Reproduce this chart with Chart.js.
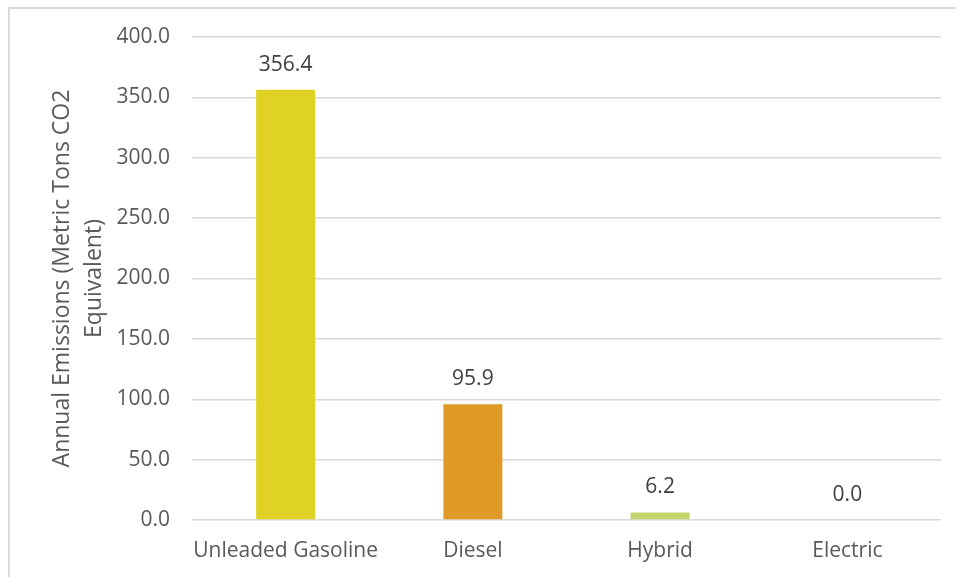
<!DOCTYPE html>
<html>
<head>
<meta charset="utf-8">
<script src="https://cdn.jsdelivr.net/npm/chart.js@4"></script>
<style>
    html, body { margin: 0; padding: 0; background: #ffffff; }
    #wrap { position: relative; width: 956px; height: 577px; overflow: hidden; }
    #frame {
        position: absolute; left: 8px; top: 7px; right: -10px; bottom: -10px;
        border-left: 2px solid #d9d9d9; border-top: 2px solid #d9d9d9;
        pointer-events: none;
    }
    canvas { position: absolute; left: 0; top: 0; }
</style>
</head>
<body>
<div id="wrap">
    <canvas id="emissionsChart" width="956" height="577"></canvas>
    <div id="frame"></div>
</div>
<script>
    // Chart data
    const fuelTypes = ['Unleaded Gasoline', 'Diesel', 'Hybrid', 'Electric'];
    const annualEmissions = [356.4, 95.9, 6.2, 0.0];
    const barColors = ['#e0d224', '#e09a28', '#c4d46c', '#a9c4e8'];
    const yTitleLines = ['Annual Emissions (Metric Tons CO2', 'Equivalent)'];

    const FONT = "'Open Sans', sans-serif";

    // Draws the value above each bar
    const valueLabels = {
        id: 'valueLabels',
        afterDatasetsDraw(chart) {
            const ctx = chart.ctx;
            const meta = chart.getDatasetMeta(0);
            ctx.save();
            ctx.font = '21px ' + FONT;
            ctx.fillStyle = '#404040';
            ctx.textAlign = 'center';
            ctx.textBaseline = 'middle';
            meta.data.forEach((bar, i) => {
                ctx.fillText(annualEmissions[i].toFixed(1), bar.x, bar.y - 25);
            });
            ctx.restore();
        }
    };

    new Chart(document.getElementById('emissionsChart'), {
        type: 'bar',
        data: {
            labels: fuelTypes,
            datasets: [{
                data: annualEmissions,
                backgroundColor: barColors,
                borderWidth: 0,
                barPercentage: 0.315,
                categoryPercentage: 1
            }]
        },
        options: {
            responsive: false,
            animation: false,
            devicePixelRatio: 1,
            layout: { padding: { left: 0, right: 15, top: 37, bottom: 0 } },
            plugins: {
                legend: { display: false },
                tooltip: { enabled: false }
            },
            scales: {
                x: {
                    grid: { display: false, drawTicks: false },
                    border: { display: false },
                    ticks: {
                        color: '#595959',
                        font: { family: FONT, size: 21 },
                        padding: 18,
                        maxRotation: 0,
                        autoSkip: false
                    },
                    afterFit: scale => { scale.height = 57; }
                },
                y: {
                    min: 0,
                    max: 400,
                    grid: { color: '#d9d9d9', lineWidth: 1.5, drawTicks: false },
                    border: { display: false },
                    ticks: {
                        stepSize: 50,
                        color: '#595959',
                        font: { family: FONT, size: 21 },
                        padding: 22,
                        callback: value => value.toFixed(1)
                    },
                    title: {
                        display: true,
                        text: yTitleLines,
                        color: '#595959',
                        font: { family: FONT, size: 23, lineHeight: 1.4 },
                        padding: { top: 46, bottom: 0 }
                    },
                    afterFit: scale => { scale.width = 192; }
                }
            }
        },
        plugins: [valueLabels]
    });
</script>
</body>
</html>
